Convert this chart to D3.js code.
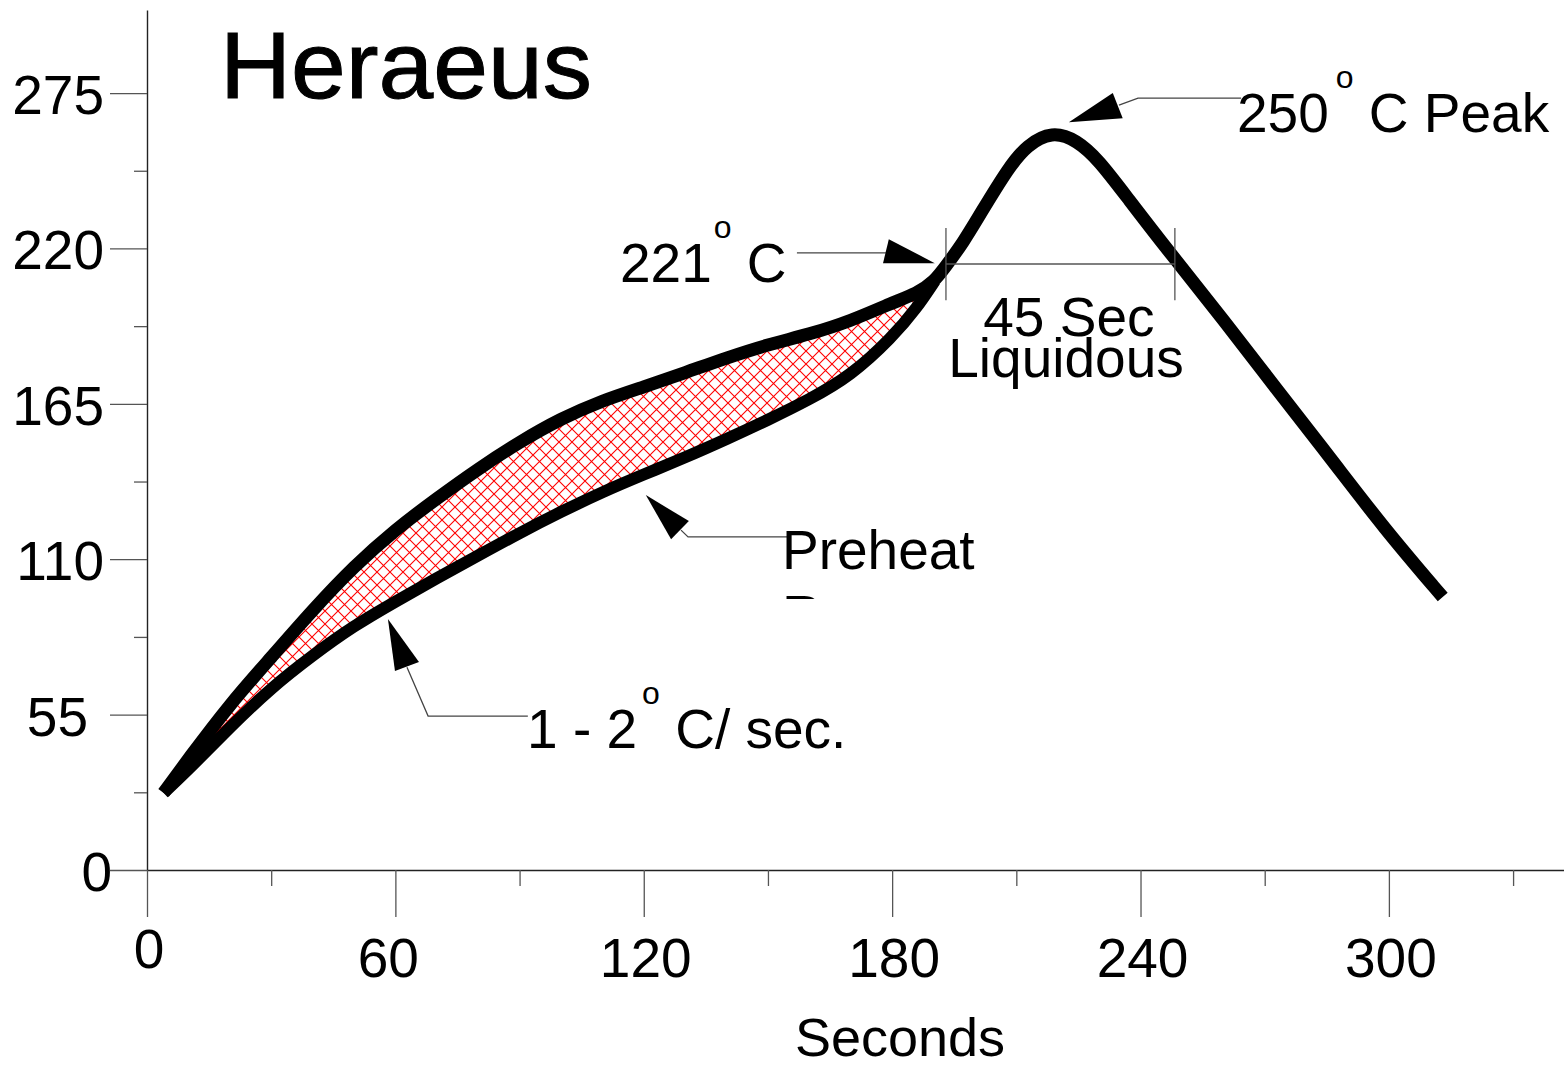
<!DOCTYPE html>
<html><head><meta charset="utf-8">
<script src="https://cdn.jsdelivr.net/npm/d3@7"></script>
<style>
html,body{margin:0;padding:0;background:#fff}
svg{display:block}
text{font-family:"Liberation Sans",Arial,Helvetica,sans-serif;fill:#000}
</style>
</head><body>
<svg id="c" width="1564" height="1067"></svg>
<script>
// ---- data ----
const yTicks = [0, 55, 110, 165, 220, 275];
const yMinor = [27.5, 82.5, 137.5, 192.5, 247.5];
const xTicks = [0, 60, 120, 180, 240, 300];
const xMinor = [30, 90, 150, 210, 270, 330];
const xTitle = "Seconds";
const chartTitle = "Heraeus";

// preheat band (upper and lower bound of the profile window)
const bandTimes  = [4, 10, 20, 30, 40, 50, 60, 70, 80, 90, 100, 110, 120, 130, 140, 150, 160, 170, 180, 186, 190.3];
const upperTemps = [27.3, 39.3, 58.7, 75.2, 92.0, 107.5, 120.5, 131.5, 142.0, 151.5, 159.8, 166.2, 171.0, 176.0, 181.3, 186.0, 189.6, 194.3, 200.8, 204.0, 208.5];
const lowerTemps = [27.3, 35.5, 50.5, 64.5, 76.0, 86.5, 95.0, 103.3, 111.3, 119.3, 126.8, 133.8, 140.0, 146.0, 152.5, 159.3, 166.5, 174.9, 188.5, 199.0, 208.5];

// reflow peak and cooling
const peakTimes = [190.3, 192.8, 197.1, 201.4, 208.2, 212.6, 218.6, 224.6, 229.9, 236.7, 247.1, 260.1, 273.0, 286.0, 298.8, 313.0];
const peakTemps = [208.5, 213.4, 221.9, 232.5, 248.8, 256.6, 261.5, 258.4, 251.3, 238.2, 218.4, 194.7, 169.9, 145.6, 121.0, 96.6];

// liquidous bracket
const liquidStart = 193.0, liquidEnd = 248.3, liquidTemp = 214.5, liquidLo = 201.7, liquidHi = 227.2;

// annotation arrows (time, temp)
const arrows = [
  { line: [[157.0, 218.4], [178.5, 218.4]], head: [[179.2, 223.3], [177.8, 214.8], [190.3, 214.8]] },
  { line: [[264.3, 273.2], [239.4, 273.2], [234.8, 270.7]], head: [[233.3, 275.0], [235.7, 266.1], [222.7, 264.7]] },
  { line: [[154.8, 117.9], [130.7, 117.9], [129.0, 120.3]], head: [[120.5, 132.7], [126.6, 117.1], [130.9, 123.5]] },
  { line: [[92.0, 54.5], [67.9, 54.5], [62.8, 71.8]], head: [[58.2, 88.8], [59.9, 70.4], [65.7, 73.6]] }
];

// ---- scales ----
const svg = d3.select("#c");
const x = d3.scaleLinear().domain([0, 342.3]).range([147, 1564]);
const y = d3.scaleLinear().domain([0, 304.4]).range([870, 10]);

// ---- axes ----
const gy = svg.append("g").attr("transform", `translate(${x(0)},0)`);
gy.call(d3.axisLeft(y).tickValues(yTicks).tickSize(37).tickSizeOuter(0).tickFormat(""));
gy.append("g").call(d3.axisLeft(y).tickValues(yMinor).tickSize(13).tickSizeOuter(0).tickFormat(""))
  .select(".domain").remove();
const gx = svg.append("g").attr("transform", `translate(0,${y(0)})`);
gx.call(d3.axisBottom(x).tickValues(xTicks).tickSize(47).tickSizeOuter(0).tickFormat(""));
gx.append("g").call(d3.axisBottom(x).tickValues(xMinor).tickSize(16).tickSizeOuter(0).tickFormat(""))
  .select(".domain").remove();
svg.selectAll(".domain").attr("stroke", "#222").attr("stroke-width", 1.4);
svg.selectAll(".tick line").attr("stroke", "#555").attr("stroke-width", 1.3);

// tick labels
const yLabelEnd = v => v === 0 ? 112 : (v === 55 ? 88 : 104);
svg.append("g").selectAll("text").data(yTicks).join("text")
  .attr("x", d => yLabelEnd(d)).attr("y", d => y(d) + 21)
  .attr("text-anchor", "end").attr("font-size", 55).text(d => d);
svg.append("g").selectAll("text").data(xTicks).join("text")
  .attr("x", d => x(d) + (d === 60 ? -7 : 2)).attr("y", d => d === 0 ? 968 : 977)
  .attr("text-anchor", "middle").attr("font-size", 55).text(d => d);
svg.append("text").attr("x", 900).attr("y", 1056).attr("text-anchor", "middle")
  .attr("font-size", 54).text(xTitle);

// title
svg.append("text").attr("x", 220).attr("y", 98).attr("font-size", 94)
  .attr("textLength", 372).attr("lengthAdjust", "spacingAndGlyphs")
  .attr("stroke", "#000").attr("stroke-width", 1).text(chartTitle);

// ---- hatch pattern ----
const defs = svg.append("defs");
const pat = defs.append("pattern").attr("id", "hatch").attr("patternUnits", "userSpaceOnUse")
  .attr("width", 13).attr("height", 13);
pat.append("path").attr("d", "M0,0L13,13M13,0L0,13").attr("stroke", "#ff0000").attr("stroke-width", 1.1);

const band = bandTimes.map((t, i) => ({ t, hi: upperTemps[i], lo: lowerTemps[i] }));
svg.append("path").datum(band)
  .attr("d", d3.area().x(d => x(d.t)).y0(d => y(d.lo)).y1(d => y(d.hi)).curve(d3.curveBasis))
  .attr("fill", "url(#hatch)");

const line = d3.line().x(d => x(d[0])).y(d => y(d[1])).curve(d3.curveBasis);
const lowerPts = bandTimes.map((t, i) => [t, lowerTemps[i]]);
const upperPts = bandTimes.map((t, i) => [t, upperTemps[i]]).slice(0, -1)
  .concat(peakTimes.map((t, i) => [t, peakTemps[i]]));
svg.append("path").attr("d", line(lowerPts)).attr("fill", "none").attr("stroke", "#000")
  .attr("stroke-width", 12).attr("stroke-linejoin", "round");
svg.append("path").attr("d", line(upperPts)).attr("fill", "none").attr("stroke", "#000")
  .attr("stroke-width", 13).attr("stroke-linejoin", "round");

// ---- liquidous bracket ----
const lg = svg.append("g").attr("stroke", "#555").attr("stroke-width", 1.3);
lg.append("line").attr("x1", x(liquidStart)).attr("x2", x(liquidEnd)).attr("y1", y(liquidTemp)).attr("y2", y(liquidTemp));
[liquidStart, liquidEnd].forEach(t => lg.append("line").attr("x1", x(t)).attr("x2", x(t)).attr("y1", y(liquidLo)).attr("y2", y(liquidHi)));

// ---- arrows ----
const plain = d3.line().x(d => x(d[0])).y(d => y(d[1]));
arrows.forEach(a => {
  svg.append("path").attr("d", plain(a.line)).attr("fill", "none").attr("stroke", "#444").attr("stroke-width", 1.3);
  svg.append("path").attr("d", plain(a.head) + "Z").attr("fill", "#000");
});

// ---- annotation texts ----
function degText(t, T, a, b, dx1, dx2) {
  const tx = svg.append("text").attr("x", x(t)).attr("y", y(T)).attr("font-size", 55);
  tx.append("tspan").text(a);
  tx.append("tspan").attr("font-size", 32).attr("dx", dx1).attr("dy", -44).text("o");
  tx.append("tspan").attr("font-size", 55).attr("dx", dx2).attr("dy", 44).text(b);
}
degText(114.25, 208.1, "221", " C", 2, 0);
degText(263.3, 261.2, "250", " C Peak", 7, 0);
degText(91.8, 43.2, "1 - 2", " C/ sec.", 5, 0);

svg.append("text").attr("x", x(222.7)).attr("y", y(189.0)).attr("text-anchor", "middle").attr("font-size", 55).text("45 Sec");
svg.append("text").attr("x", x(222.0)).attr("y", y(174.5)).attr("text-anchor", "middle").attr("font-size", 55).text("Liquidous");
svg.append("text").attr("x", x(153.4)).attr("y", y(106.5)).attr("font-size", 55).text("Preheat");
defs.append("clipPath").attr("id", "cut").append("rect")
  .attr("x", x(150)).attr("width", 200).attr("y", y(99.8)).attr("height", y(95.9) - y(99.8));
svg.append("text").attr("clip-path", "url(#cut)").attr("x", x(153.4)).attr("y", y(83.5))
  .attr("font-size", 55).text("Ramp");
</script>
</body></html>
